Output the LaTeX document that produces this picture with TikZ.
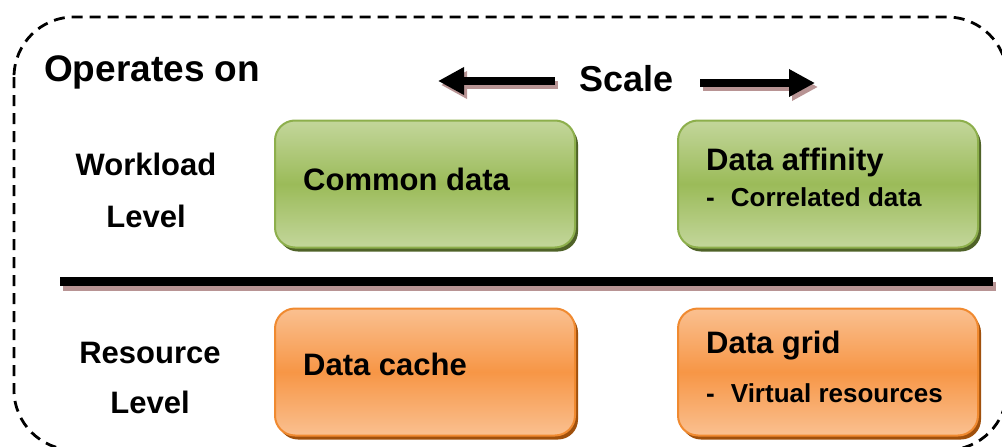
\documentclass[tikz,border=0pt]{standalone}
\usepackage{fontspec}
\setmainfont{Liberation Sans}
\usetikzlibrary{arrows.meta,shadows}
\definecolor{gLight}{HTML}{C3D69B}
\definecolor{gMid}{HTML}{9BBB59}
\definecolor{gEdge}{HTML}{8DAF4C}
\definecolor{gShadow}{HTML}{4F6228}
\definecolor{oLight}{HTML}{FAC090}
\definecolor{oMid}{HTML}{F79646}
\definecolor{oEdge}{HTML}{F08A30}
\definecolor{oShadow}{HTML}{A0500C}
\definecolor{rose}{RGB}{184,148,148}
\begin{document}
\begin{tikzpicture}[x=1pt,y=-1pt,
  box/.style={rounded corners=20pt, minimum width=300pt, minimum height=127pt, line width=2pt, inner sep=0pt},
  gbox/.style={box, draw=gEdge, top color=gLight, bottom color=gLight, middle color=gMid,
    drop shadow={shadow xshift=3pt, shadow yshift=-4pt, fill=gShadow, opacity=1}},
  obox/.style={box, draw=oEdge, top color=oLight, bottom color=oLight, middle color=oMid,
    drop shadow={shadow xshift=3pt, shadow yshift=-4pt, fill=oShadow, opacity=1}},
  big/.style={font=\fontsize{31}{36}\selectfont\bfseries, inner sep=0pt, anchor=base west},
  small/.style={font=\fontsize{26}{30}\selectfont\bfseries, inner sep=0pt, anchor=base west},
  lvl/.style={font=\fontsize{31}{36}\selectfont\bfseries, inner sep=0pt, anchor=base},
  fatarrow/.style={line width=8pt, -{Triangle[length=26pt,width=26pt]}},
]
\useasboundingbox (0,0) rectangle (1002,447);
\clip (0,0) rectangle (1002,447);

% dashed frame
\draw[line width=2.8pt, dash pattern=on 11pt off 7pt, rounded corners=60pt] (14,17) rectangle (1007,450);

% title and scale
\node[font=\fontsize{37}{42}\selectfont\bfseries, inner sep=0pt, anchor=base west] (ops) at (44,81) {Operates on};
\node[font=\fontsize{36}{42}\selectfont\bfseries, inner sep=0pt, anchor=base west] (scale) at (579,91) {Scale};

\coordinate (lt) at (555,81);  \coordinate (lh) at (438,81);
\coordinate (rt) at (700,83);  \coordinate (rh) at (815,83);
\coordinate (lts) at (558,85); \coordinate (lhs) at (441,85);
\coordinate (rts) at (703,87); \coordinate (rhs) at (818,87);
\draw[fatarrow, draw=rose, fill=rose] (lts) -- (lhs);
\draw[fatarrow, draw=rose, fill=rose] (rts) -- (rhs);
\draw[fatarrow] (lt) -- (lh);
\draw[fatarrow] (rt) -- (rh);

% level labels
\node[lvl] (wl1) at (146,175) {Workload};
\node[lvl] (wl2) at (146,227) {Level};
\node[lvl] (rl1) at (150,363) {Resource};
\node[lvl] (rl2) at (150,413) {Level};

% separator
\draw[line width=9pt, rose] (63,286) -- (996,286);
\draw[line width=9pt, black] (60,281) -- (993,281);

% boxes
\node[gbox] (common) at (425,184) {};
\node[gbox] (affinity) at (828,184) {};
\node[obox] (cache) at (425,372) {};
\node[obox] (grid) at (828,372) {};

\node[big] (commonT) at (303,190) {Common data};
\node[big] (affT) at (706,170) {Data affinity};
\node[small] (affS) at (706,206) {-\hspace{16pt}Correlated data};
\node[big] (cacheT) at (303,375) {Data cache};
\node[big] (gridT) at (706,353) {Data grid};
\node[small] (gridS) at (706,402) {-\hspace{16pt}Virtual resources};
\end{tikzpicture}
\end{document}
